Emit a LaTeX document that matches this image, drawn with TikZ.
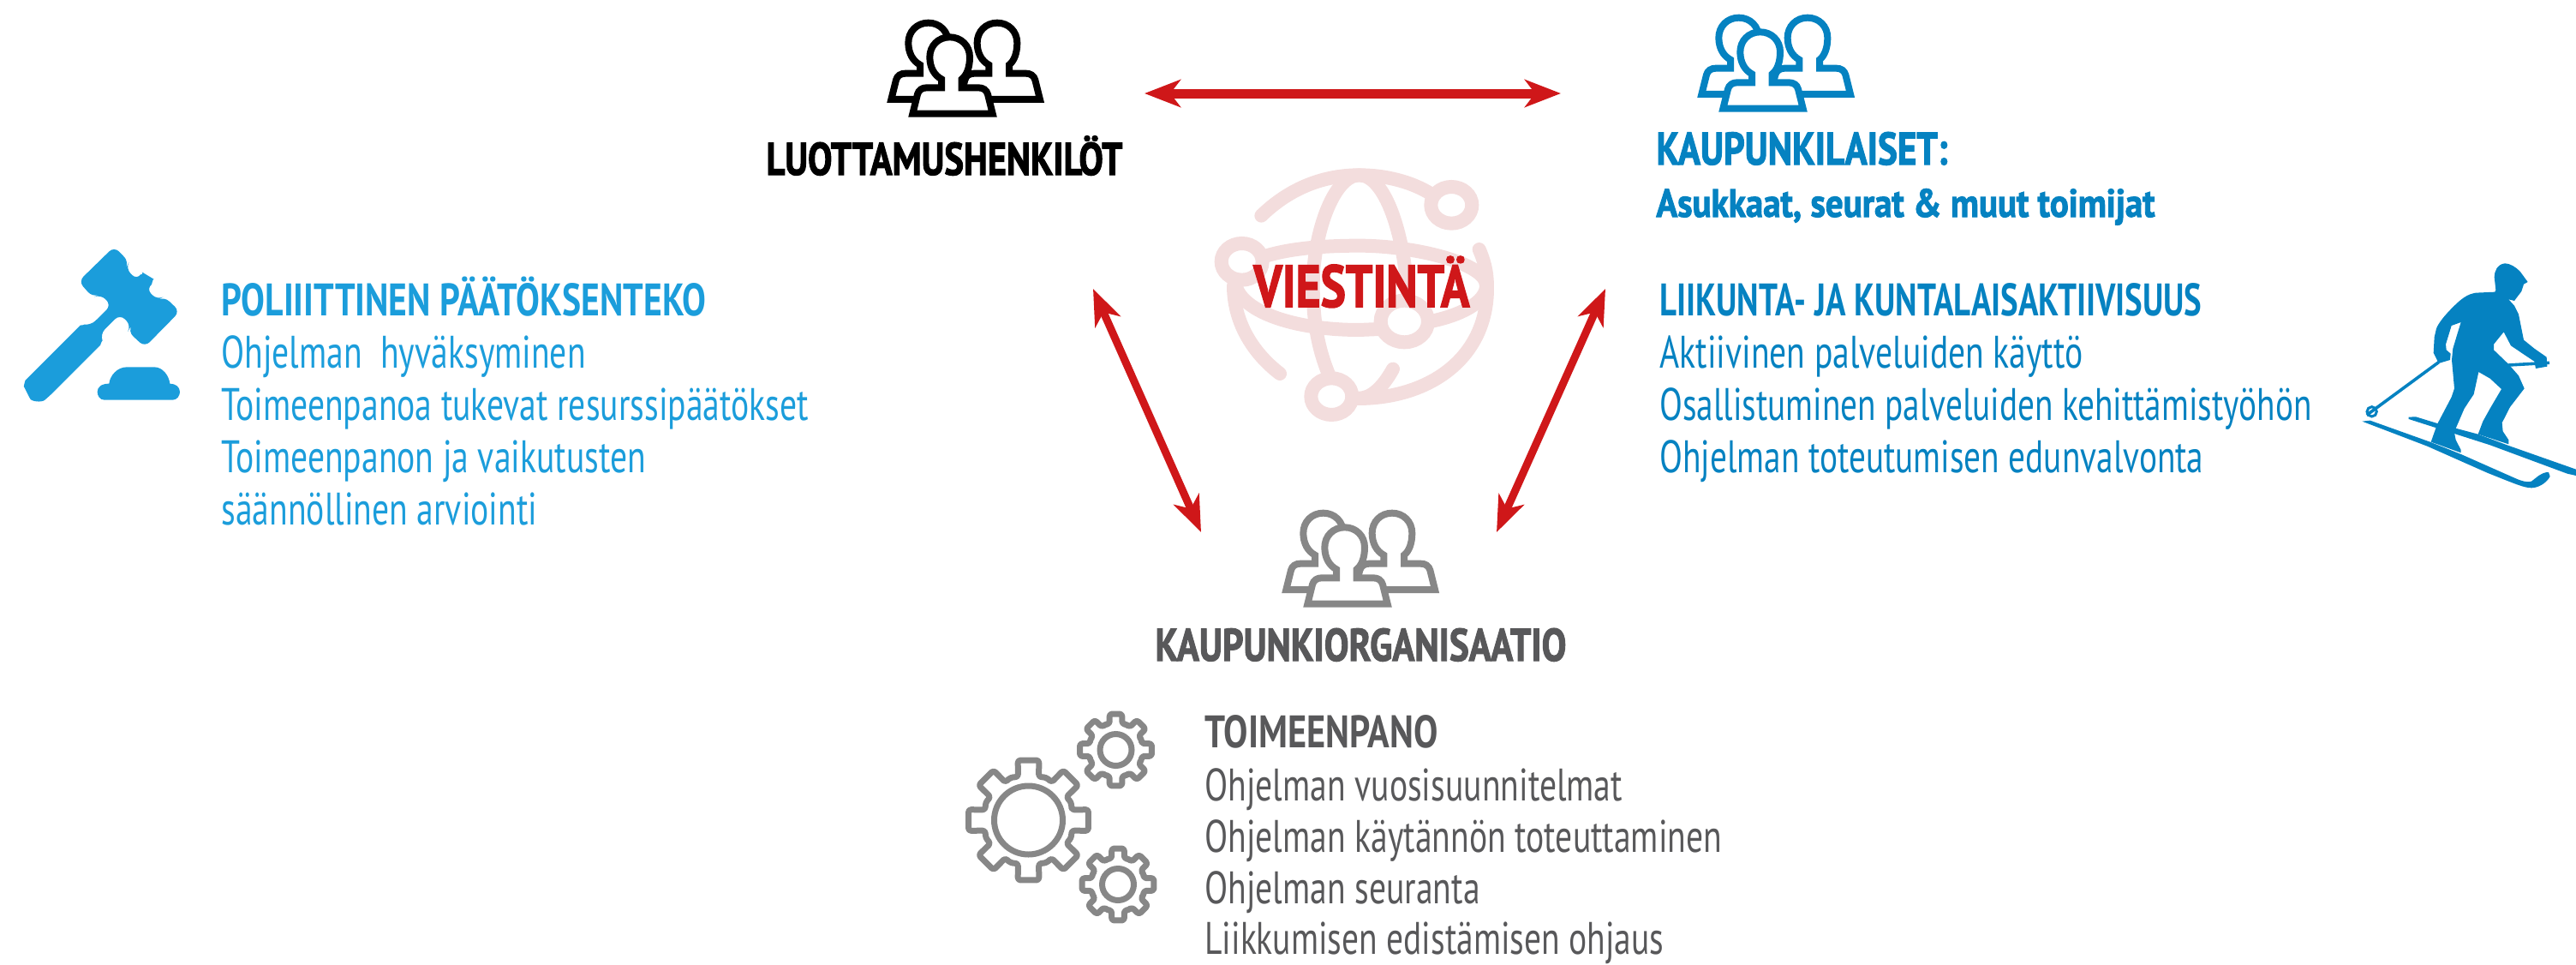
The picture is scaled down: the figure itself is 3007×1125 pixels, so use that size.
\documentclass[tikz,border=0pt]{standalone}
\usepackage{graphicx}
\usepackage{fontspec}
\setmainfont[FakeStretch=0.745]{PT Sans}
\newfontfamily\heavyface[UprightFont={* Bold},FakeBold=2.2]{PT Sans}
\newcommand{\fitw}[2]{\resizebox{#1}{\height}{#2}}
\usetikzlibrary{arrows.meta}
\definecolor{redc}{HTML}{CF1719}
\definecolor{paleglobe}{HTML}{F3DDDD}
\definecolor{lightblue}{HTML}{1B9DDB}
\definecolor{deepblue}{HTML}{0582C1}
\definecolor{icongray}{HTML}{878787}
\definecolor{textgray}{HTML}{58585A}
\newcommand{\personshape}{(115,353) -- (132,285) .. controls (136,270) and (148,262) .. (165,262) -- (216,262) -- (216,232) .. controls (190,218) and (175,190) .. (175,155) .. controls (175,115) and (205,85) .. (245,85) .. controls (285,85) and (315,115) .. (315,155) .. controls (315,190) and (305,218) .. (287,232) -- (287,262) -- (345,262) .. controls (362,262) and (374,270) .. (378,285) -- (395,353) -- cycle}
\tikzset{
  x=0.5pt,y=-0.5pt,
  line/.style={anchor=base west,inner sep=0pt,font=\fontsize{26.6}{30}\selectfont},
  head/.style={anchor=base west,inner sep=0pt,font=\fontsize{26.6}{30}\selectfont\bfseries},
  heavyhead/.style={anchor=base west,inner sep=0pt,font=\fontsize{26.6}{30}\heavyface\selectfont},
  link/.style={draw=redc,line width=#1,{Stealth[length=21pt,width=16pt,inset=6pt]}-{Stealth[length=21pt,width=16pt,inset=6pt]}},
  pics/peopleicon/.style={code={
    \begin{scope}[scale=0.3333,draw=#1,fill=white,line width=4pt,line join=miter]
      \filldraw[shift={(-75,-50)}] \personshape;
      \filldraw[shift={(166,-50)}] \personshape;
      \filldraw \personshape;
    \end{scope}}},
  pics/gearicon/.style n args={2}{code={
    \begin{scope}[scale=#1]
      \draw[draw=icongray,line width=3.5pt,line join=round,rounded corners=1.5pt]
        (-13.5:52) \foreach \a in {0,45,...,315} {
          -- (\a-13.5:52) -- (\a-10:71) -- (\a+10:71) -- (\a+13.5:52) -- (\a+22.5:54) } -- cycle;
    \end{scope}
    \draw[draw=icongray,line width=3.5pt] (0,0) circle (#2);}}
}
\begin{document}
\begin{tikzpicture}
\useasboundingbox (0,0) rectangle (3007,1125);

% people icons
\pic at (1027,15) {peopleicon=black};
\pic at (1973,9) {peopleicon=deepblue};
\pic at (1488,587) {peopleicon=icongray};

% arrows
\coordinate (topL) at (1336,109);
\coordinate (topR) at (1822,109);
\coordinate (leftT) at (1276,337);
\coordinate (leftB) at (1402,621);
\coordinate (rightT) at (1874,337);
\coordinate (rightB) at (1747,621);
\draw[link=5.5pt] (topL) -- (topR);
\draw[link=4.5pt] (leftT) -- (leftB);
\draw[link=4.5pt] (rightT) -- (rightB);

% globe
\begin{scope}[shift={(1410,190)},scale=0.3333,draw=paleglobe,line width=8pt,line cap=round]
  \draw (187,185) .. controls (290,85) and (410,43) .. (530,43) .. controls (620,43) and (710,65) .. (780,108);
  \draw (950,303) .. controls (975,360) and (978,400) .. (978,440) .. controls (978,680) and (780,825) .. (525,825);
  \draw (90,430) .. controls (90,550) and (150,660) .. (252,738);
  \draw (425,745) .. controls (385,650) and (368,550) .. (368,430) .. controls (368,250) and (440,43) .. (530,43) .. controls (620,43) and (690,250) .. (700,480);
  \draw (648,722) .. controls (610,790) and (570,825) .. (525,825);
  \draw (190,330) .. controls (280,300) and (400,290) .. (530,290) .. controls (720,290) and (975,350) .. (975,430) .. controls (975,490) and (880,535) .. (780,555);
  \draw (95,420) .. controls (110,520) and (300,585) .. (530,585) -- (600,582);
  \filldraw[fill=white] (853,148) ellipse (72 and 64);
  \filldraw[fill=white] (119,346) ellipse (72 and 64);
  \filldraw[fill=white] (688,555) ellipse (83 and 73);
  \filldraw[fill=white] (433,818) ellipse (72 and 64);
\end{scope}

% gavel
\begin{scope}[shift={(20,275)},scale=0.3333,fill=lightblue]
  \fill[rounded corners=4pt] (340,38) -- (392,92) -- (380,115) -- (420,155) .. controls (430,140) and (445,132) .. (458,140) .. controls (475,150) and (472,170) .. (452,185) -- (490,225) -- (515,213) -- (570,265) -- (447,390) -- (388,335) -- (400,315) -- (360,275) -- (290,345) .. controls (298,365) and (290,385) .. (275,400) -- (115,560) .. controls (85,585) and (50,580) .. (35,550) .. controls (22,525) and (30,505) .. (45,490) -- (205,330) .. controls (220,315) and (240,312) .. (257,315) -- (330,243) -- (292,205) -- (265,216) -- (215,160) -- cycle;
  \fill (305,575) .. controls (290,575) and (281,560) .. (281,547) .. controls (281,530) and (295,518) .. (322,518) .. controls (325,490) and (350,460) .. (385,460) -- (480,460) .. controls (510,460) and (532,490) .. (535,518) .. controls (555,518) and (570,530) .. (570,547) .. controls (570,560) and (560,575) .. (545,575) -- cycle;
\end{scope}

% skier
\begin{scope}[shift={(2650,280)},scale=0.3333,fill=deepblue]
  \fill (485,620) -- (510,619) -- (585,642) -- (728,680) -- (835,720) -- (1071,803) -- (1071,825) -- (1040,818) -- (770,718) -- (485,627) -- cycle;
  \fill (322,635) -- (350,632) -- (560,707) -- (668,750) -- (860,835) .. controls (890,848) and (905,848) .. (915,845) .. controls (935,830) and (950,813) .. (975,813) -- (980,828) .. controls (965,855) and (935,868) .. (915,868) .. controls (890,868) and (860,855) .. (760,815) -- (550,722) -- cycle;
  \fill (822,82) .. controls (795,85) and (785,110) .. (785,130) -- (790,175) -- (787,182) -- (720,185) .. controls (690,190) and (670,205) .. (640,235) .. controls (610,265) and (590,290) .. (582,310) -- (575,340) -- (572,395) -- (590,432) -- (630,420) -- (632,398) -- (617,385) -- (615,365) -- (635,300) -- (668,288) -- (655,330) -- (640,380) -- (636,420) -- (645,520) -- (635,550) -- (585,645) -- (563,707) -- (668,745) -- (668,735) -- (650,700) -- (645,675) -- (652,655) -- (680,590) -- (713,540) -- (730,462) -- (770,485) -- (810,522) -- (770,590) -- (745,635) -- (728,680) -- (835,715) -- (835,700) -- (815,670) -- (812,640) -- (840,585) -- (890,520) -- (870,475) -- (835,435) -- (783,385) -- (783,365) -- (818,322) -- (843,370) -- (880,395) -- (925,425) -- (930,450) -- (970,443) -- (968,410) -- (925,380) -- (888,350) -- (870,260) -- (855,230) -- (835,208) -- (855,213) -- (880,180) -- (888,155) -- (902,147) -- (875,110) .. controls (860,95) and (840,82) .. (822,82) -- cycle;
  \draw[deepblue,line width=1.8pt] (835,438) -- (978,430);
  \draw[deepblue,line width=1.8pt] (590,428) -- (338,613);
  \draw[deepblue,line width=1.5pt] (356,601) circle (17);
\end{scope}

% gears
\pic at (1200.5,957) {gearicon={1}{40}};
\pic at (1302.5,875) {gearicon={0.6}{18.5}};
\pic at (1305,1032) {gearicon={0.6}{18.5}};

% text
\node[heavyhead,black] (luott) at (894,204) {\fitw{208pt}{LUOTTAMUSHENKILÖT}};
\node[heavyhead,textgray] (korg) at (1348,771) {\fitw{240pt}{KAUPUNKIORGANISAATIO}};
\node[heavyhead,deepblue] (kaup) at (1933,192) {\fitw{170pt}{KAUPUNKILAISET:}};
\node[heavyhead,deepblue,font=\fontsize{23}{26}\heavyface\selectfont] (asuk) at (1933,253) {\fitw{291pt}{Asukkaat, seurat \& muut toimijat}};
\node[anchor=base west,inner sep=0pt,text=redc,font=\fontsize{34.5}{40}\heavyface\selectfont] (viest) at (1463,358) {\fitw{126pt}{VIESTINTÄ}};

\node[head,lightblue] (p0) at (258,368) {\fitw{283pt}{POLIIITTINEN PÄÄTÖKSENTEKO}};
\node[line,lightblue] (p1) at (258,429) {Ohjelman~ hyväksyminen};
\node[line,lightblue] (p2) at (258,490) {Toimeenpanoa tukevat resurssipäätökset};
\node[line,lightblue] (p3) at (258,551) {Toimeenpanon ja vaikutusten};
\node[line,lightblue] (p4) at (258,612) {säännöllinen arviointi};

\node[head,deepblue] (a0) at (1937,368) {\fitw{316.5pt}{LIIKUNTA- JA KUNTALAISAKTIIVISUUS}};
\node[line,deepblue] (a1) at (1937,429) {Aktiivinen palveluiden käyttö};
\node[line,deepblue] (a2) at (1937,490) {\fitw{380.5pt}{Osallistuminen palveluiden kehittämistyöhön}};
\node[line,deepblue] (a3) at (1937,551) {\fitw{317.5pt}{Ohjelman toteutumisen edunvalvonta}};

\node[head,textgray] (t0) at (1406,872) {\fitw{136pt}{TOIMEENPANO}};
\node[line,textgray] (t1) at (1406,934) {Ohjelman vuosisuunnitelmat};
\node[line,textgray] (t2) at (1406,994) {Ohjelman käytännön toteuttaminen};
\node[line,textgray] (t3) at (1406,1054) {Ohjelman seuranta};
\node[line,textgray] (t4) at (1406,1113) {\fitw{268pt}{Liikkumisen edistämisen ohjaus}};
\end{tikzpicture}
\end{document}
